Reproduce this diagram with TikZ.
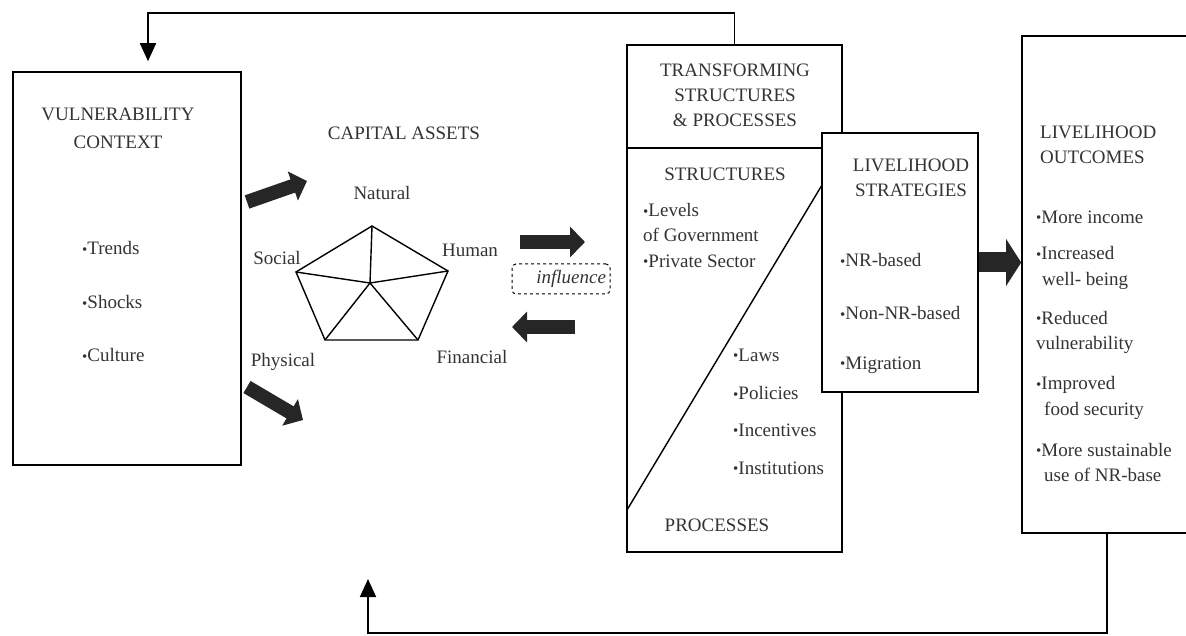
\documentclass[tikz,border=0pt]{standalone}
\usepackage{fontspec}
\setmainfont{Liberation Serif}
\usetikzlibrary{arrows.meta,calc}

\newcommand{\bul}{\raisebox{0.02em}{\fontsize{15}{15}\selectfont\textbullet}}

\tikzset{
  box/.style={draw, line width=1.6pt, inner sep=0pt},
  lbl/.style={inner sep=0pt, text=black!80, font=\fontsize{19}{25}\selectfont},
  lst/.style={lbl, align=left, anchor=west},
  fbline/.style={line width=1.8pt, -{Triangle[width=16pt,length=18pt]}},
  bigarrow/.style={line width=14pt, black!85, -{Triangle[width=30pt,length=15pt]}},
  pent/.style={line width=1.4pt}
}

\begin{document}
\begin{tikzpicture}[x=1pt,y=-1pt]
  \useasboundingbox (0,0) rectangle (1186,636);

  % Vulnerability Context Box
  \node[box, minimum width=228pt, minimum height=393pt] (vuln) at (127,268.5) {};
  \node[lbl, align=center] (vtitle) at (118,128) {VULNERABILITY\\[3pt]CONTEXT};
  \node[lst] (vtrend) at (82,248) {\bul Trends};
  \node[lst] (vshock) at (82,302) {\bul Shocks};
  \node[lst] (vcult) at (82,355) {\bul Culture};

  % Capital Assets pentagon
  \node[lbl] (captitle) at (404,133) {CAPITAL ASSETS};
  \coordinate (pN) at (372,226);
  \coordinate (pH) at (448,271);
  \coordinate (pF) at (418,340);
  \coordinate (pP) at (325,340);
  \coordinate (pS) at (296,272);
  \coordinate (pC) at (370,283);
  \draw[pent] (pN) -- (pH) -- (pF) -- (pP) -- (pS) -- cycle;
  \foreach \v in {pN,pH,pF,pP,pS}
    \draw[pent] (pC) -- (\v);
  \node[lbl] (natural) at (382,193) {Natural};
  \node[lbl] (social) at (277,258) {Social};
  \node[lbl] (human) at (470,250) {Human};
  \node[lbl] (financial) at (472,357) {Financial};
  \node[lbl] (physical) at (283,362) {Physical};

  % Block arrows
  \draw[bigarrow] (247,202) -- (307,181);
  \draw[bigarrow] (247,387) -- (303,420);
  \draw[bigarrow] (520,242) -- (585,242);
  \draw[bigarrow] (575,327) -- (512,327);

  % Influence
  \node[lbl, draw, dashed, line width=1pt, rounded corners=4pt, text width=90pt,
        align=right, minimum height=30pt, inner xsep=4pt] (infl) at (561,279) {\textit{influence}};

  % Transforming Structures & Processes Box
  \node[box, minimum width=215pt, minimum height=507pt] (trans) at (734.5,298.5) {};
  \draw[line width=1.6pt] (627,148) -- (822,148);
  \draw[line width=1.4pt] (627,510) -- (822,185);
  \node[lbl, align=center] (ttitle) at (735,95) {TRANSFORMING\\STRUCTURES\\\&~PROCESSES};
  \node[lbl] (struct) at (725,174) {STRUCTURES};
  \node[lst] (levels) at (643,223) {\bul Levels\\of Government};
  \node[lst] (private) at (643,261) {\bul Private Sector};
  \node[lst] (laws) at (733,355) {\bul Laws};
  \node[lst] (policies) at (733,393) {\bul Policies};
  \node[lst] (incent) at (733,430) {\bul Incentives};
  \node[lst] (instit) at (733,468) {\bul Institutions};
  \node[lbl] (proc) at (717,525) {PROCESSES};

  % Livelihood Strategies Box
  \node[box, fill=white, minimum width=156pt, minimum height=259pt] (strat) at (900,262.5) {};
  \node[lbl, align=center] (stitle) at (911,178) {LIVELIHOOD\\STRATEGIES};
  \node[lst] (nrb) at (840,260) {\bul NR-based};
  \node[lst] (nonnr) at (840,313) {\bul Non-NR-based};
  \node[lst] (migr) at (840,365) {\bul Migration};

  % Livelihood Outcomes Box
  \node[box, minimum width=170pt, minimum height=497pt] (outc) at (1107,284.5) {};
  \node[lst] (otitle) at (1040,145) {LIVELIHOOD\\OUTCOMES};
  \node[lst] (income) at (1036,217) {\bul More income};
  \node[lst, font=\fontsize{19}{26}\selectfont] (wellb) at (1036,268) {\bul Increased\\\hspace*{6pt}well- being};
  \node[lst] (reduced) at (1036,332) {\bul Reduced\\vulnerability};
  \node[lst, font=\fontsize{19}{26}\selectfont] (food) at (1036,398) {\bul Improved\\\hspace*{8pt}food security};
  \node[lst] (sustain) at (1036,462) {\bul More sustainable\\\hspace*{8pt}use of NR-base};

  % Strategies to outcomes
  \draw[bigarrow, line width=20pt, -{Triangle[width=46pt,length=15pt]}] (strat.east) -- (strat.east -| outc.west);

  % Feedback loops
  \coordinate (fbtop) at (148,13);
  \draw[fbline, shorten >=10pt] (trans.north) |- (fbtop) -- (fbtop |- vuln.north);
  \coordinate (fbbot) at (368,633);
  \coordinate (fbend) at (368,579);
  \draw[fbline] (outc.south) |- (fbbot) -- (fbend);
\end{tikzpicture}
\end{document}
